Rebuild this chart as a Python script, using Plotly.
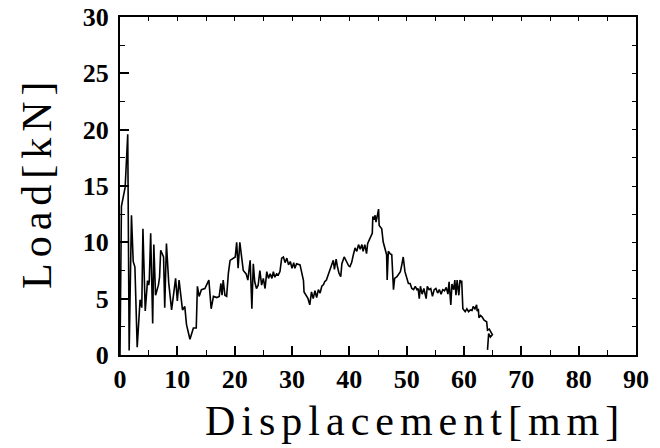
import plotly.graph_objects as go

# Displacement [mm] and Load [kN]
displacement = [
    0.0, 0.25, 0.9, 1.35, 1.6, 2.0, 2.3, 2.6, 3.0, 3.5, 3.8, 4.0, 4.4, 4.8, 5.0, 5.1, 5.35, 5.7, 5.9, 6.2,
    6.7, 6.9, 7.1, 7.6, 7.8, 8.1, 8.5, 9.0, 9.7, 10.0, 10.3, 10.6, 10.9, 11.3, 11.6, 12.2, 12.8, 13.3, 13.5, 13.8,
    14.2, 14.8, 15.5, 15.9, 16.3, 16.9, 17.3, 17.6, 17.8, 18.0, 18.3, 18.6, 18.9, 19.2, 19.7, 20.1, 20.35, 20.6, 20.9, 21.2,
    21.5, 22.0, 22.3, 22.7, 23.0, 23.25, 23.5, 23.8, 24.1, 24.4, 24.7, 25.0, 25.3, 25.6, 25.9, 26.2, 26.5, 26.75, 27.0, 27.3,
    27.6, 27.9, 28.2, 28.5, 28.8, 29.1, 29.4, 29.7, 30.0, 30.3, 30.5, 30.8, 31.4, 31.85, 32.0, 32.1, 32.4, 32.8, 33.1, 33.4,
    33.7, 34.0, 34.3, 34.6, 34.9, 35.2, 35.5, 35.7, 36.0, 36.3, 36.6, 36.9, 37.2, 37.4, 37.7, 37.9, 38.2, 38.5, 38.7, 39.1,
    39.4, 39.7, 39.9, 40.1, 40.4, 40.7, 41.0, 41.3, 41.6, 41.9, 42.2, 42.4, 42.7, 43.0, 43.2, 43.6, 44.0, 44.1, 44.3, 44.5,
    44.65, 44.9, 45.1, 45.2, 45.65, 45.9, 46.2, 46.5, 46.6, 46.8, 47.1, 47.4, 47.7, 47.9, 48.3, 48.9, 49.15, 49.4, 49.7, 50.0,
    50.3, 50.6, 50.9, 51.2, 51.5, 51.8, 52.0, 52.2, 52.4, 52.7, 53.0, 53.4, 53.6, 53.9, 54.2, 54.5, 54.8, 55.1, 55.4, 55.7,
    56.0, 56.3, 56.6, 56.9, 57.2, 57.4, 57.7, 57.9, 58.2, 58.4, 58.6, 58.8, 59.1, 59.3, 59.5, 59.6, 59.8, 60.2, 60.5, 60.8,
    61.1, 61.4, 61.6, 61.9, 62.2, 62.3, 62.5, 62.6, 62.9, 63.2, 63.5, 63.95, 64.1, 64.4, 64.7, 64.95, 64.6, 64.3, 64.1,
]
load = [
    0.0, 13.2, 14.9, 19.6, 0.4, 12.4, 8.3, 7.8, 0.7, 4.9, 4.2, 11.2, 3.9, 6.6, 6.2, 6.5, 10.8, 2.8, 9.8, 5.3,
    6.2, 6.9, 9.3, 8.7, 4.2, 9.9, 6.4, 4.0, 6.8, 4.8, 6.65, 5.5, 4.0, 4.3, 2.7, 1.4, 2.4, 2.4, 6.1, 5.2,
    5.8, 5.9, 6.65, 4.1, 5.2, 5.1, 5.2, 6.35, 5.3, 6.65, 5.3, 5.2, 7.25, 8.4, 8.6, 8.7, 10.0, 7.7, 10.0, 8.4,
    7.5, 7.2, 6.65, 8.4, 4.1, 8.1, 6.5, 5.9, 6.2, 7.5, 6.2, 6.8, 5.9, 7.4, 6.8, 7.2, 6.8, 7.4, 6.9, 7.2,
    7.1, 7.4, 8.6, 8.7, 8.2, 8.6, 8.0, 8.3, 7.7, 8.2, 7.7, 8.1, 8.0, 6.95, 6.6, 5.6, 5.3, 5.0, 4.45, 5.6,
    5.0, 5.7, 5.1, 5.8, 5.5, 6.1, 6.25, 6.5, 6.65, 7.1, 7.5, 8.0, 8.4, 7.6, 8.5, 7.9, 7.25, 6.95, 8.1, 8.7,
    8.4, 8.2, 7.9, 7.85, 8.2, 8.9, 9.5, 9.2, 9.8, 9.4, 9.8, 9.2, 9.8, 9.0, 9.9, 10.35, 10.8, 12.3, 12.0, 12.4,
    11.8, 12.4, 12.95, 11.5, 11.2, 10.05, 9.5, 8.9, 6.65, 9.2, 9.0, 8.9, 5.8, 6.8, 6.95, 7.4, 8.0, 8.7, 7.4, 6.8,
    6.35, 6.35, 5.9, 5.8, 6.1, 5.8, 5.9, 5.0, 6.1, 5.4, 5.9, 5.0, 6.1, 5.8, 5.9, 5.2, 5.8, 5.9, 5.5, 5.8,
    5.4, 5.8, 5.7, 6.0, 5.4, 6.5, 4.45, 6.3, 5.8, 6.65, 5.3, 6.65, 5.3, 6.65, 6.4, 6.6, 4.1, 3.85, 4.1, 3.85,
    4.0, 3.95, 4.3, 4.1, 4.45, 3.9, 4.1, 3.3, 3.5, 3.35, 3.1, 2.95, 2.2, 2.3, 2.0, 1.8, 1.6, 1.9, 0.45,
]

x_ticks = [0, 10, 20, 30, 40, 50, 60, 70, 80, 90]
y_ticks = [0, 5, 10, 15, 20, 25, 30]
x_title = "Displacement[mm]"
y_title = "Load[kN]"

serif = "Liberation Serif, Times New Roman, serif"

fig = go.Figure()
fig.add_trace(go.Scatter(x=displacement, y=load, mode="lines",
                         line=dict(color="black", width=1.6), showlegend=False,
                         hoverinfo="skip"))

fig.update_layout(
    width=660, height=448,
    margin=dict(l=120, r=24, t=17, b=93, autoexpand=False),
    paper_bgcolor="white", plot_bgcolor="white",
    xaxis=dict(
        range=[0, 90], tickvals=x_ticks, ticktext=[str(v) for v in x_ticks],
        ticks="inside", ticklen=9, tickwidth=1.5, tickcolor="black",
        minor=dict(dtick=5, tick0=0, ticks="inside", ticklen=5, tickwidth=1.2, tickcolor="black"),
        showline=True, linecolor="black", linewidth=2, showgrid=False, zeroline=False,
        tickfont=dict(family=serif, size=26, color="black", weight="bold"),
        automargin=False,
    ),
    yaxis=dict(
        range=[0, 30], tickvals=y_ticks, ticktext=[str(v) for v in y_ticks],
        ticks="inside", ticklen=9, tickwidth=1.5, tickcolor="black",
        minor=dict(dtick=2.5, tick0=0, ticks="inside", ticklen=5, tickwidth=1.2, tickcolor="black"),
        showline=True, linecolor="black", linewidth=2, showgrid=False, zeroline=False,
        tickfont=dict(family=serif, size=26, color="black", weight="bold"),
        ticklabelstandoff=4, automargin=False,
    ),
    xaxis2=dict(overlaying="x", matches="x", side="top", range=[0, 90], showticklabels=False,
                tickvals=x_ticks, ticks="inside", ticklen=4, tickwidth=1.2, tickcolor="black",
                minor=dict(dtick=5, tick0=0, ticks="inside", ticklen=4, tickwidth=1.2, tickcolor="black"),
                showline=True, linecolor="black", linewidth=2, showgrid=False, zeroline=False,
                automargin=False),
    yaxis2=dict(overlaying="y", matches="y", side="right", range=[0, 30], showticklabels=False,
                tickvals=y_ticks, ticks="inside", ticklen=4, tickwidth=1.2, tickcolor="black",
                minor=dict(dtick=2.5, tick0=0, ticks="inside", ticklen=4, tickwidth=1.2, tickcolor="black"),
                showline=True, linecolor="black", linewidth=2, showgrid=False, zeroline=False,
                automargin=False),
    annotations=[
        dict(text=x_title, xref="paper", yref="paper", x=(415 - 120) / 516, y=-(421 - 355) / 338,
             xanchor="center", yanchor="middle", showarrow=False,
             font=dict(family=serif, size=42, color="black")),
        dict(text=y_title, xref="paper", yref="paper", x=-(120 - 37) / 516, y=(355 - 182) / 338,
             xanchor="center", yanchor="middle", showarrow=False, textangle=-90,
             font=dict(family=serif, size=42, color="black")),
    ],
)
# invisible trace to activate top/right axes
fig.add_trace(go.Scatter(x=[None], y=[None], xaxis="x2", yaxis="y2", showlegend=False, hoverinfo="skip"))

post = """
document.body.style.margin = '0';
document.querySelectorAll('.annotation-text').forEach(function(e){ e.style.letterSpacing = '6px'; });
"""
fig.write_html("out.html", post_script=post, config={"displayModeBar": False})
